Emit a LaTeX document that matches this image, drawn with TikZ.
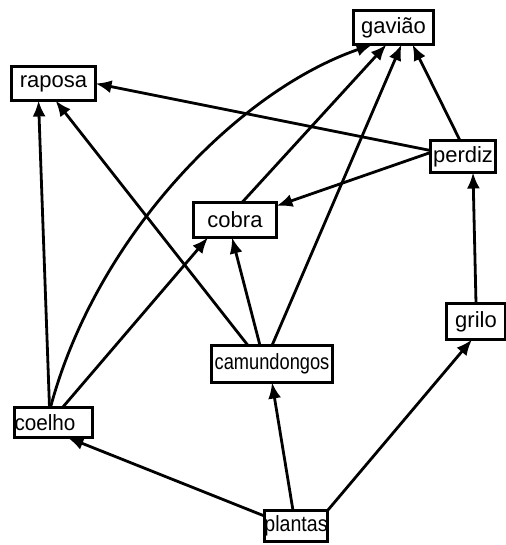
\documentclass[tikz,border=0pt]{standalone}
\usepackage{fontspec}
\setmainfont{Liberation Sans}
\usetikzlibrary{arrows.meta}
\begin{document}
\begin{tikzpicture}[x=1pt,y=-1pt,inner sep=0pt,outer sep=0pt,line width=2.8pt,
>={Latex[length=16pt,width=13pt]},
animal/.style={draw,rectangle,line width=3pt,font=\fontsize{22}{24}\selectfont}]
\useasboundingbox (0,0) rectangle (505,545);

\draw (393.5,27.5) node[animal,minimum width=80pt,minimum height=34pt] (gaviao) {gavião};
\draw (53.5,83.5) node[animal,minimum width=84pt,minimum height=34pt] (raposa) {raposa};
\draw (463,156.5) node[animal,minimum width=65pt,minimum height=32pt] (perdiz) {perdiz};
\draw (235,220) node[animal,minimum width=83pt,minimum height=35pt] (cobra) {cobra};
\draw (476,321.5) node[animal,minimum width=59pt,minimum height=36pt] (grilo) {grilo};
\draw (272,364) node[animal,minimum width=121pt,minimum height=37pt] (camundongos) {\scalebox{0.83}[1]{camundongos}};
\draw (53.5,422.5) node[animal,minimum width=78pt,minimum height=30pt] (coelho) {\makebox[78pt][l]{\scalebox{0.94}[1]{coelho}}};
\draw (296,526) node[animal,minimum width=63pt,minimum height=31pt] (plantas) {\scalebox{0.89}[1]{plantas}};

\draw[->] ([xshift=-3pt]perdiz.north) -- ([xshift=19pt]gaviao.south);
\draw[->] ([yshift=6pt]perdiz.west) -- (raposa.east);
\draw[->] ([yshift=4pt]perdiz.west) -- ([yshift=14pt]cobra.east);
\draw[->] ([xshift=7pt]cobra.north) -- ([xshift=-7pt]gaviao.south);
\draw[->] (camundongos.north) -- ([xshift=8pt]gaviao.south);
\draw[->] ([xshift=-3pt]coelho.north) .. controls (95,240) and (235,92) .. ([xshift=-21pt]gaviao.south);
\draw[->] ([xshift=-24pt]camundongos.north) -- ([xshift=2pt]raposa.south);
\draw[->] ([xshift=-4pt]coelho.north) -- ([xshift=-15pt]raposa.south);
\draw[->] ([xshift=9pt]coelho.north) -- ([xshift=-27pt]cobra.south);
\draw[->] ([xshift=-12pt]camundongos.north) -- ([xshift=-3pt]cobra.south);
\draw[->] (grilo.north) -- ([xshift=10pt]perdiz.south);
\draw[->] (plantas.north east) -- ([xshift=-4pt]grilo.south);
\draw[->] ([xshift=-3pt]plantas.north) -- (camundongos.south);
\draw[->] ([yshift=10pt]plantas.west) -- ([xshift=14pt]coelho.south);
\end{tikzpicture}
\end{document}
